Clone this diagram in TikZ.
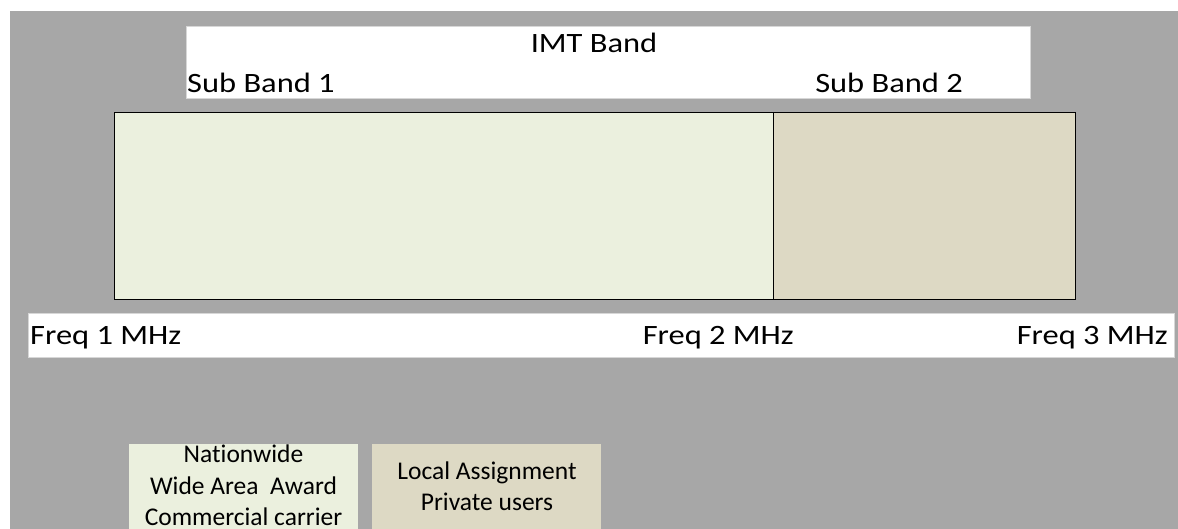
\documentclass[tikz,border=0pt]{standalone}
\usepackage{fontspec}
\setmainfont{Carlito}[Ligatures=NoCommon]
\newfontfamily\widefont{Carlito}[FakeStretch=1.16,Ligatures=NoCommon]
\definecolor{bggray}{RGB}{167,167,167}
\definecolor{subone}{RGB}{235,240,222}
\definecolor{subtwo}{RGB}{221,217,196}
\definecolor{lborder}{RGB}{215,215,215}
\tikzset{
  whitestrip/.style={fill=white,draw=lborder,line width=0.8pt},
  bandbox/.style={draw=black,line width=1pt},
  lbl/.style={inner sep=0pt,font=\widefont\fontsize{28}{30}\selectfont},
  legtext/.style={inner sep=0pt,align=center,font=\fontsize{25.5}{31.5}\selectfont},
}
\begin{document}
\begin{tikzpicture}[x=1pt,y=-1pt]
\useasboundingbox (0,0) rectangle (1178,529);
\fill[bggray] (10,11) rectangle (1178,529);
% header strip
\draw[whitestrip] (186,26) rectangle (1030,98);
\node[lbl,anchor=base] (imt) at (594,52.7) {IMT Band};
\node[lbl,anchor=base west] (sb1) at (187,92.7) {Sub Band 1};
\node[lbl,anchor=base east] (sb2) at (963,92.7) {Sub Band 2};
% band rectangle
\draw[bandbox,fill=subone] (114,113) rectangle (773,300);
\draw[bandbox,fill=subtwo] (773,113) rectangle (1075,300);
% frequency strip
\draw[whitestrip] (28,313) rectangle (1174,357);
\node[lbl,anchor=base west] (f1) at (30,344.5) {Freq 1 MHz};
\node[lbl,anchor=base east] (f2) at (794,344.5) {Freq 2 MHz};
\node[lbl,anchor=base east] (f3) at (1168,344.5) {Freq 3 MHz};
% legend
\fill[subone] (129,444) rectangle (358,529);
\fill[subtwo] (372,444) rectangle (601,529);
\node[legtext,anchor=base] (nat) at (243.5,525.5) {Nationwide\\Wide Area\ \ Award\\Commercial carrier};
\node[legtext,anchor=base] (loc) at (487,510.7) {Local Assignment\\Private users};
\end{tikzpicture}
\end{document}
